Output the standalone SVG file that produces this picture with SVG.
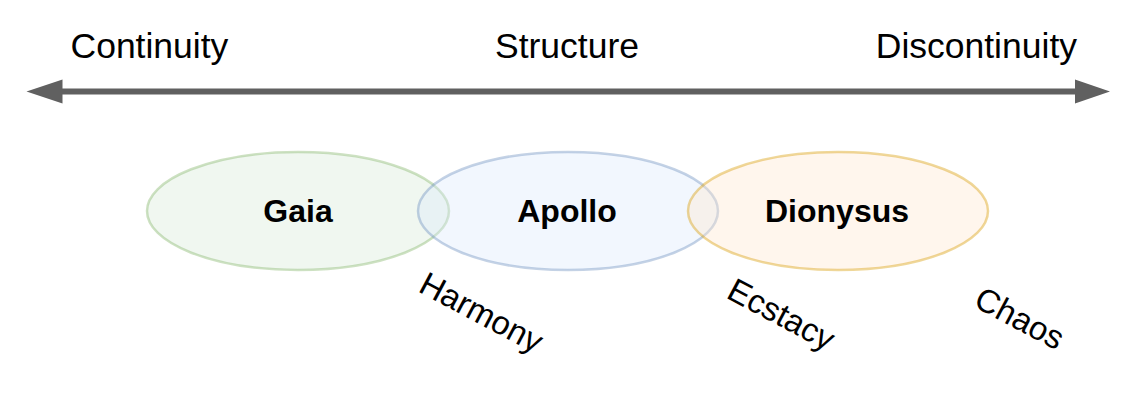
<svg xmlns="http://www.w3.org/2000/svg" width="1137" height="408" viewBox="0 0 1137 408">
<style>
.t{font-family:"Liberation Sans",Arial,Helvetica,sans-serif;fill:#000}
.top{font-size:35.5px}
.b{font-size:32px;font-weight:bold;text-anchor:middle}
.r{font-size:33px;text-anchor:middle}
.e{stroke-width:2.5;fill-opacity:0.35;stroke-opacity:0.4}
</style>
<rect width="1137" height="408" fill="#ffffff"/>
<g id="connectors">
<line x1="60" y1="91.5" x2="1077" y2="91.5" stroke="#606060" stroke-width="6"/>
<polygon points="26.5,91.5 62.5,79.5 62.5,103.5" fill="#606060"/>
<polygon points="1110,91.5 1075,79.5 1075,103.5" fill="#606060"/>
</g>
<g id="label-continuity"><text class="t top" x="70.5" y="58">Continuity</text></g>
<g id="label-structure"><text class="t top" x="567" y="58" text-anchor="middle">Structure</text></g>
<g id="label-discontinuity"><text class="t top" x="1077" y="58" text-anchor="end">Discontinuity</text></g>
<g id="gaia">
<ellipse class="e" cx="298" cy="211" rx="151" ry="59" fill="#d5e8d4" stroke="#82b366"/>
<text class="t b" x="298" y="222">Gaia</text>
</g>
<g id="apollo">
<ellipse class="e" cx="568" cy="211" rx="150" ry="59" fill="#dae8fc" stroke="#6c8ebf"/>
<text class="t b" x="567" y="222">Apollo</text>
</g>
<g id="dionysus">
<ellipse class="e" cx="838" cy="211" rx="150" ry="59" fill="#ffe6cc" stroke="#d79b00"/>
<text class="t b" x="837" y="222">Dionysus</text>
</g>
<g id="label-harmony"><text class="t r" transform="translate(480,315) rotate(28)" x="0" y="8.3">Harmony</text></g>
<g id="label-ecstacy"><text class="t r" transform="translate(780,317) rotate(28)" x="0" y="8.3">Ecstacy</text></g>
<g id="label-chaos"><text class="t r" transform="translate(1020,317.5) rotate(28)" x="0" y="12">Chaos</text></g>
</svg>
